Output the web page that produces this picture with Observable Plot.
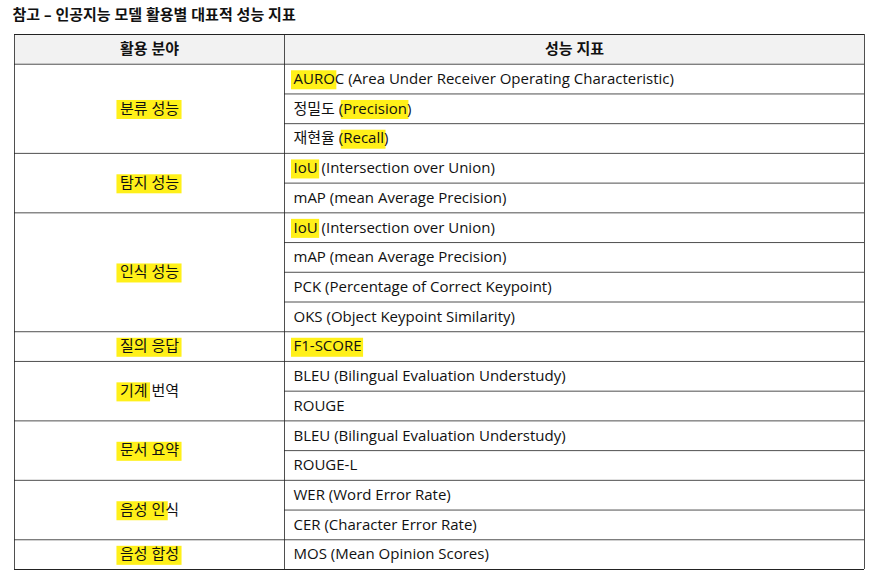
<!DOCTYPE html>
<html>
<head>
<meta charset="utf-8">
<script src="https://cdn.jsdelivr.net/npm/d3@7"></script>
<script src="https://cdn.jsdelivr.net/npm/@observablehq/plot@0.6"></script>
<style>body{margin:0;background:#fff}</style>
</head>
<body>
<div id="chart"></div>
<script>
const title = "참고 – 인공지능 모델 활용별 대표적 성능 지표"
const headers = ["활용 분야", "성능 지표"]
const categories = ["분류 성능", "탐지 성능", "인식 성능", "질의 응답", "기계 번역", "문서 요약", "음성 인식", "음성 합성"]
const spans = [3, 2, 4, 1, 2, 2, 2, 1]
const catMarked = ["분류 성능", "탐지 성능", "인식 성능", "질의 응답", "기계", "문서 요약", "음성 인", "음성 합성"]
const metrics = [
  "AUROC (Area Under Receiver Operating Characteristic)",
  "정밀도 (Precision)",
  "재현율 (Recall)",
  "IoU (Intersection over Union)",
  "mAP (mean Average Precision)",
  "IoU (Intersection over Union)",
  "mAP (mean Average Precision)",
  "PCK (Percentage of Correct Keypoint)",
  "OKS (Object Keypoint Similarity)",
  "F1-SCORE",
  "BLEU (Bilingual Evaluation Understudy)",
  "ROUGE",
  "BLEU (Bilingual Evaluation Understudy)",
  "ROUGE-L",
  "WER (Word Error Rate)",
  "CER (Character Error Rate)",
  "MOS (Mean Opinion Scores)"
]
// which part of each metric text is marked with the highlighter
const metricMarked = ["AURO", "Precision", "Recall", "IoU", "", "IoU", "", "", "", "F1-SCORE", "", "", "", "", "", "", ""]

const font = "'Open Sans', 'Noto Sans CJK KR', sans-serif"
const ctx = document.createElement("canvas").getContext("2d")
ctx.font = `15px ${font}`
const w = s => ctx.measureText(s).width

const left = 14, mid = 284, right = 864, pad = 9
const catCenter = (left + mid) / 2

// category rows
let start = 1
const cats = categories.map((c, i) => {
  const o = {name: c, marked: catMarked[i], y1: start, y2: start + spans[i]}
  start += spans[i]
  return o
})
const catBreaks = new Set(cats.map(c => c.y2))

const hl = []
cats.forEach(c => {
  const x0 = catCenter - w(c.name) / 2 - 3
  hl.push({x1: x0, x2: x0 + w(c.marked) + 6, y: (c.y1 + c.y2) / 2})
})
metrics.forEach((m, i) => {
  const s = metricMarked[i]
  if (!s) return
  const x0 = mid + pad + w(m.slice(0, m.indexOf(s))) - 2
  hl.push({x1: x0, x2: x0 + w(s) + 4, y: i + 1.5})
})

const rows = d3.range(1, 18).map(b => ({y: b, x1: b === 1 || catBreaks.has(b) ? left : mid}))

const chart = Plot.plot({
  width: 884, height: 580, margin: 0,
  x: {domain: [0, 884], range: [0, 884], axis: null},
  y: {domain: [0, 18], range: [34, 569], axis: null},
  marks: [
    Plot.rect([0], {x1: left, x2: right, y1: 0, y2: 1, fill: "#f2f2f2"}),
    Plot.rect(hl, {x1: "x1", x2: "x2", y1: d => d.y - 0.28, y2: d => d.y + 0.36, fill: "#ffee00", fillOpacity: 0.9}),
    Plot.ruleY([0, 18], {x1: left, x2: right, stroke: "#222", strokeWidth: 1}),
    Plot.ruleY(rows, {y: "y", x1: "x1", x2: right, stroke: "#222", strokeWidth: 0.8}),
    Plot.ruleX([left, mid, right], {y1: 0, y2: 18, stroke: "#222", strokeWidth: 0.8}),
    Plot.text([title], {x: left - 2, y: -0.65, text: d => d, textAnchor: "start", fontWeight: "bold", fontSize: 15, fontFamily: font, fill: "#111"}),
    Plot.text(headers, {x: (d, i) => i ? (mid + right) / 2 : catCenter, y: 0.5, text: d => d, fontWeight: "bold", fontSize: 15, fontFamily: font, fill: "#111"}),
    Plot.text(cats, {x: catCenter, y: d => (d.y1 + d.y2) / 2, text: "name", fontSize: 15, fontFamily: font, fill: "#111"}),
    Plot.text(metrics, {x: mid + pad, y: (d, i) => i + 1.5, text: d => d, textAnchor: "start", fontSize: 15, fontFamily: font, fill: "#111"})
  ]
})
document.getElementById("chart").append(chart)
</script>
</body>
</html>
